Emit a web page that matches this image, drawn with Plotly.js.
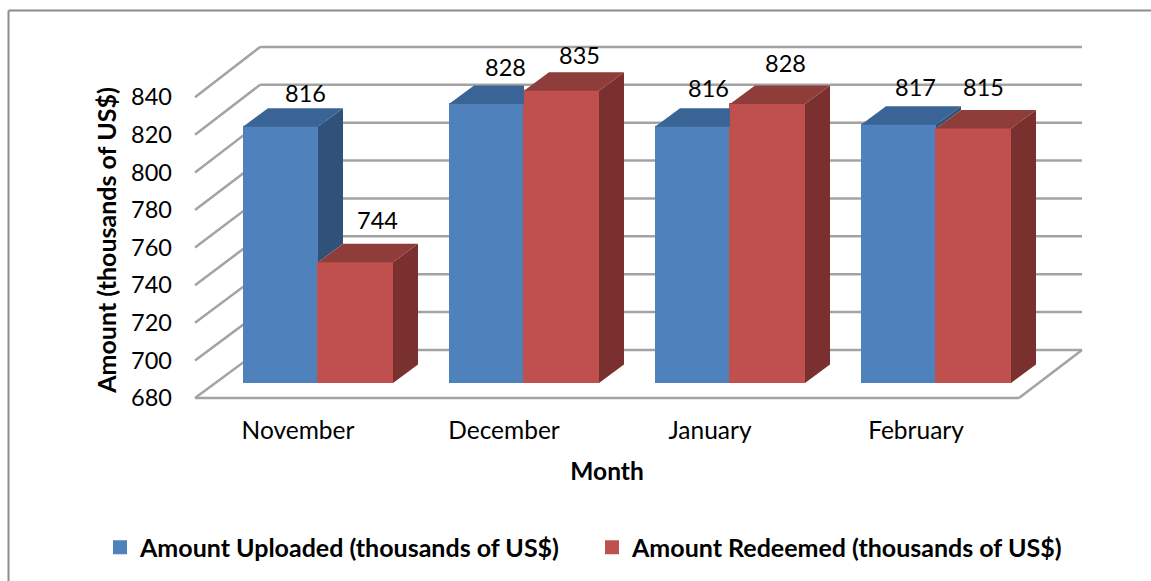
<!DOCTYPE html>
<html><head><meta charset="utf-8">
<script src="https://cdn.plot.ly/plotly-3.0.1.min.js"></script>
<style>html,body{margin:0;padding:0;background:#fff;overflow:hidden;width:1151px;height:581px}</style></head>
<body><div id="chart" style="width:1151px;height:586px"></div>
<script>
const months = ["November","December","January","February"];
const uploaded = [816,828,816,817];
const redeemed = [744,835,828,815];
const yTicks = [680,700,720,740,760,780,800,820,840];
const nameUp = "Amount Uploaded (thousands of US$)";
const nameRe = "Amount Redeemed (thousands of US$)";

const FONT = "Lato, Carlito, sans-serif";
const idx = months.map((_,i)=>i);
// 3-D look: depth of a bar, in axis units
const halfW = 75/206, dx = 25/206, dz = 18.5/1.885;
const BLUE="#4F81BD", BLUE_TOP="#3A6496", BLUE_SIDE="#305279", RED="#C0504D", RED_TOP="#8F3D3B", RED_SIDE="#7A302F", GRID="#A3A3A3";

function addPoly(t,xs,ys){ t.x.push(...xs,null); t.y.push(...ys,null); }
function face(color){ return {type:"scatter",mode:"lines",fill:"toself",fillcolor:color,line:{width:0,color:color},x:[],y:[],xaxis:"x2",yaxis:"y2",showlegend:false,hoverinfo:"skip",cliponaxis:false}; }
const bSide=face(BLUE_SIDE), bTop=face(BLUE_TOP), rSide=face(RED_SIDE), rTop=face(RED_TOP);
idx.forEach(i=>{
  const b=uploaded[i], r=redeemed[i];
  if(b>r){
    addPoly(bTop,[i-halfW,i,i+dx,i-halfW+dx],[b,b,b+dz,b+dz]);
    addPoly(bSide,[i,i+dx,i+dx,i],[b,b+dz,r+dz,r]);
  } else {
    // the taller red bar hides the right end of the blue top face
    addPoly(bTop,[i-halfW,i,i,i-halfW+dx],[b,b,b+dz,b+dz]);
  }
  addPoly(rTop,[i,i+halfW,i+halfW+dx,i+dx],[r,r,r+dz,r+dz]);
  addPoly(rSide,[i+halfW,i+halfW+dx,i+halfW+dx,i+halfW],[r,r+dz,680+dz,680]);
});
const bars=(name,vals,color)=>({type:"bar",name:name,x:idx,y:vals,xaxis:"x2",yaxis:"y2",marker:{color:color,line:{color:color,width:2}},hoverinfo:"x+y"});
const wallAnchor={type:"scatter",mode:"none",x:[0],y:[680],xaxis:"x",yaxis:"y",showlegend:false,hoverinfo:"skip"};
const traces=[wallAnchor,bSide,bTop,rSide,rTop,bars(nameUp,uploaded,BLUE),bars(nameRe,redeemed,RED)];

// walls and floor: x in fractions of the plot width, y in value units on the tick axis
const W=887, backX=65/W, frontR=824/W;
const backV=v=>680+(398-350)/1.88+(v-680)*1.894/1.88;
const shapes=[];
const ln=(x0,y0,x1,y1)=>({type:"line",layer:"below",xref:"paper",yref:"y",x0,y0,x1,y1,line:{color:GRID,width:2.5}});
yTicks.forEach(v=>{
  shapes.push(ln(0,v,backX,backV(v)));
  shapes.push(ln(backX,backV(v),1,backV(v)));
});
shapes.push(ln(0,680,frontR,680));
shapes.push(ln(frontR,680,1,backV(680)));
// frame: only the top and left edges are visible in the picture
const frame=(x0,y0,x1,y1)=>({type:"line",layer:"below",xref:"paper",yref:"paper",x0:(x0-195)/W,x1:(x1-195)/W,y0:(440-y0)/400,y1:(440-y1)/400,line:{color:"#8C8C8C",width:2}});
shapes.push(frame(8.5,10.5,1151,10.5));
shapes.push(frame(8.5,10.5,8.5,581));

// data label offsets (px)
const upShift=[[25,34],[19,37],[15.5,39],[16.5,38]];
const reShift=[[21.5,42],[18,36],[17.5,41],[9.5,42]];
const ann=[];
const addAnn=(vals,sh,off)=>vals.forEach((v,i)=>ann.push({xref:"x2",yref:"y2",x:i+off,y:v,text:String(v),showarrow:false,xanchor:"center",yanchor:"middle",xshift:sh[i][0],yshift:sh[i][1],font:{family:FONT,size:23.5,color:"#000"}}));
addAnn(uploaded,upShift,-halfW/2);
addAnn(redeemed,reShift,halfW/2);

const layout={
  width:1151,height:586,paper_bgcolor:"#fff",plot_bgcolor:"rgba(0,0,0,0)",
  font:{family:FONT,size:24,color:"#000"},
  margin:{l:195,r:69,t:40,b:146,pad:0},
  barmode:"group",bargap:1-148/206,bargroupgap:0,
  xaxis:{type:"linear",domain:[0,824/887],range:[-123/206,701/206],anchor:"free",position:0.105,tickmode:"array",tickvals:idx,ticktext:months,ticklabelshift:-20,ticklen:0,showgrid:false,zeroline:false,showline:false,ticklabelstandoff:15,tickfont:{size:24.5},
    title:{text:"Month",font:{family:FONT,size:24.5,weight:700},standoff:20}},
  xaxis2:{domain:[0,1],range:[-123/206,764/206],visible:false,anchor:"y2"},
  yaxis:{range:[680-42/1.88,680+358/1.88],tickmode:"array",tickvals:yTicks,ticklen:0,showgrid:false,zeroline:false,showline:false,ticklabelstandoff:22,anchor:"x",tickfont:{size:23.5},
    title:{text:"Amount (thousands of US$)",font:{family:FONT,size:25,weight:700},standoff:7}},
  yaxis2:{domain:[57/400,1],range:[680,680+343/1.885],visible:false,anchor:"x2"},
  legend:{orientation:"h",x:(100-195)/W,xanchor:"left",y:-0.269,yanchor:"middle",entrywidth:447,entrywidthmode:"pixels",font:{family:FONT,size:25,weight:700},bgcolor:"rgba(0,0,0,0)",traceorder:"normal"},
  shapes:shapes,annotations:ann,showlegend:true
};
Plotly.newPlot("chart",traces,layout,{displayModeBar:false,responsive:false});
</script></body></html>
